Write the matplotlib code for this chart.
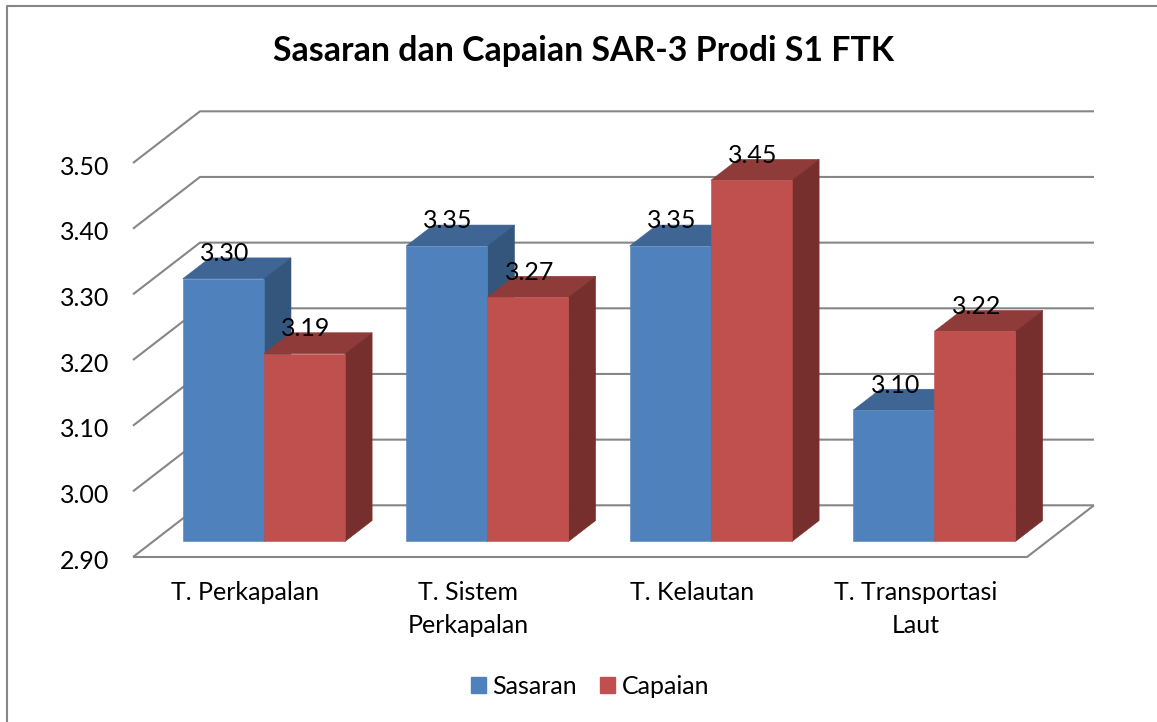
import matplotlib
matplotlib.use("Agg")
import matplotlib.pyplot as plt
from matplotlib.lines import Line2D
from matplotlib.patches import Patch
from matplotlib.transforms import ScaledTranslation

categories = ["T. Perkapalan", "T. Sistem\nPerkapalan", "T. Kelautan", "T. Transportasi\nLaut"]
sasaran = [3.30, 3.35, 3.35, 3.10]
capaian = [3.186, 3.272, 3.45, 3.22]
y_ticks = [2.90, 3.00, 3.10, 3.20, 3.30, 3.40, 3.50]

W, H = 1157, 722
GRAY = "#868686"
BLUE = ("#4F81BD", "#3E6593", "#34557C")
RED = ("#C0504D", "#8F3B39", "#772F2D")

plt.rcParams["font.family"] = ["Lato", "DejaVu Sans"]

fig = plt.figure(figsize=(W / 100, H / 100), dpi=100)
# front plane of the 3D box, in pixels: x 133-1027, y 163-557
ax = fig.add_axes([133 / W, 1 - 557 / H, 894 / W, 394 / H])
ax.set_xlim(0, 4)
ax.set_ylim(2.90, 3.50)
for s in ax.spines.values():
    s.set_visible(False)

# how far one unit of depth shifts a point, in data units
DEPTH_X = 67 / (894 / 4)
DEPTH_Y = 51.7 / (394 / 0.6)
BAR_W = 0.363
BAR_SHIFT = -0.0045
D0, D1 = 0.30, 0.705


# Shift a front plane point back into the box
def project(x, v, d):
    return x + d * DEPTH_X, v + d * DEPTH_Y


def draw_line(points, z=1):
    xs, ys = zip(*points)
    ax.plot(xs, ys, color=GRAY, lw=1.5, zorder=z, clip_on=False, solid_capstyle="butt")


def draw_face(points, color, z):
    xs, ys = zip(*points)
    ax.fill(xs, ys, facecolor=color, edgecolor=color, lw=0.4, zorder=z, clip_on=False)


# Draw one bar: top, right side, then front
def draw_bar(x, v, colors, z):
    base = y_ticks[0]
    draw_face([project(x, v, D0), project(x + BAR_W, v, D0), project(x + BAR_W, v, D1), project(x, v, D1)], colors[1], z)
    draw_face([project(x + BAR_W, base, D0), project(x + BAR_W, v, D0), project(x + BAR_W, v, D1), project(x + BAR_W, base, D1)], colors[2], z)
    draw_face([project(x, base, D0), project(x + BAR_W, base, D0), project(x + BAR_W, v, D0), project(x, v, D0)], colors[0], z)


# walls and floor
for t in y_ticks:
    draw_line([project(0, t, 0), project(0, t, 1), project(4, t, 1)])
draw_line([project(0, y_ticks[0], 0), project(4, y_ticks[0], 0), project(4, y_ticks[0], 1)])

for i in range(len(categories)):
    center = i + 0.5 + BAR_SHIFT
    draw_bar(center - BAR_W, sasaran[i], BLUE, 3 + i * 2)
    draw_bar(center, capaian[i], RED, 4 + i * 2)

for i in range(len(categories)):
    center = i + 0.5 + BAR_SHIFT
    for x, v in [(center - BAR_W / 2, sasaran[i]), (center + BAR_W / 2, capaian[i])]:
        ax.annotate(f"{v:.2f}", project(x, v, D0), xytext=(1, 18), textcoords="offset points",
                    ha="center", va="center", fontsize=18, color="black", zorder=20)

ax.set_yticks(y_ticks)
ax.set_yticklabels([f"{t:.2f}" for t in y_ticks])
ax.set_xticks([i + 0.5 for i in range(len(categories))])
ax.set_xticklabels(categories, linespacing=1.5)
ax.tick_params(axis="both", length=0, labelsize=18)
ax.tick_params(axis="y", pad=17)
ax.tick_params(axis="x", pad=17.5)

# tick labels sit a little lower than the gridline start
for label in ax.get_yticklabels():
    label.set_transform(label.get_transform() + ScaledTranslation(0, -1.5 / 72, fig.dpi_scale_trans))

fig.text(584 / W, 1 - 61 / H, "Sasaran dan Capaian SAR-3 Prodi S1 FTK", ha="center", va="baseline",
         fontsize=24.4, fontweight="bold", color="black")

handles = [Patch(color=BLUE[0], label="Sasaran"), Patch(color=RED[0], label="Capaian")]
fig.legend(handles=handles, loc="center", bbox_to_anchor=(590 / W, 1 - 686 / H), ncols=2, frameon=False,
           fontsize=18, handlelength=0.6, handleheight=0.6, handletextpad=0.25, columnspacing=0.95)

# chart frame, only left and top edges show in the crop
fig.add_artist(Line2D([6.5 / W, 6.5 / W, 1], [0, 1 - 5.5 / H, 1 - 5.5 / H], color=GRAY, lw=1.5))

fig.savefig("out.png", dpi=100)
